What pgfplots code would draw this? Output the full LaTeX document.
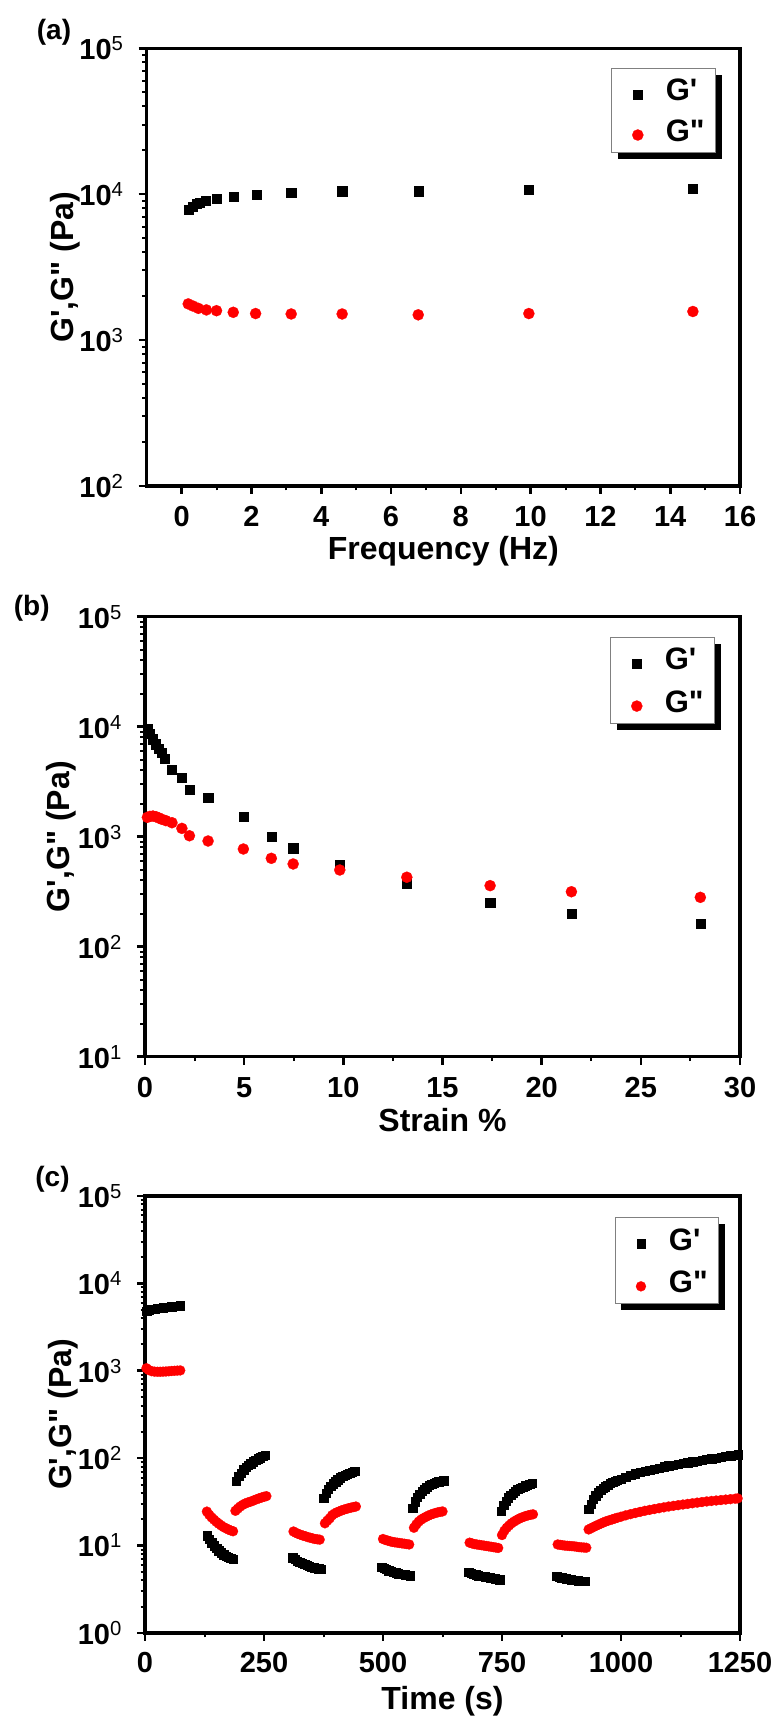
\documentclass[border=0pt]{standalone}
\usepackage{fontspec}
\setmainfont{Liberation Sans}
\usepackage{pgfplots}
\pgfplotsset{compat=1.18}
\usetikzlibrary{shadows}
\newcommand{\Gp}{G\textquotesingle}
\newcommand{\Gpp}{G\textquotedbl}
\pgfplotsset{
  gp/.style={only marks, mark=square*, mark size=4.6bp, mark options={fill=black, draw=black, line width=0.2bp}},
  gpp/.style={only marks, mark=*, mark size=5.6bp, mark options={fill=red, draw=red, line width=0.2bp}},
  panel/.style={
    scale only axis,
    axis line style={line width=3.5bp},
    tick align=outside,
    tick pos=left,
    major tick length=8bp, minor tick length=4.5bp,
    tick style={black, line width=2.6bp},
    minor tick style={line width=2bp},
    minor x tick num=1,
    tick label style={font=\fontsize{29bp}{34bp}\selectfont\bfseries},
    /pgf/number format/assume math mode=true,
    /pgf/number format/1000 sep={},
    xticklabel style={anchor=base, yshift=-33bp},
    yticklabel style={anchor=east, inner xsep=0pt, xshift=-15bp},
    label style={font=\fontsize{32bp}{38bp}\selectfont\bfseries},
    legend cell align=left,
    legend image code/.code={\pgfpathrectangle{\pgfpoint{0bp}{-5bp}}{\pgfpoint{28bp}{10bp}}\pgfusepath{discard}\draw[##1] plot coordinates {(15bp,-4.5bp)};},
    legend style={draw=gray, line width=0.8bp, fill=white, text=black,
      font=\fontsize{31bp}{34bp}\selectfont\bfseries,
      nodes={inner sep=0pt, text depth=0pt, text=black},
      inner xsep=11bp, inner ysep=11bp, row sep=19bp,
      /tikz/every odd column/.append style={column sep=15bp},
      anchor=north east,
      drop shadow={shadow xshift=6.5bp, shadow yshift=-6.5bp, fill=black, opacity=1}},
  }
}
\begin{document}
\begin{tikzpicture}
\path[use as bounding box] (0,0) rectangle (781bp,1718bp);
\node[font=\fontsize{28bp}{32bp}\selectfont\bfseries] at (54bp,1685.5bp) {(a)};
\node[font=\fontsize{28bp}{32bp}\selectfont\bfseries] at (31.7bp,1109.7bp) {(b)};
\node[font=\fontsize{28bp}{32bp}\selectfont\bfseries] at (52.5bp,539bp) {(c)};

% (a)
\begin{axis}[ymode=log, panel, at={(146.7bp,1232bp)}, anchor=south west,
  width=593.3bp, height=437.7bp,
  xmin=-1, xmax=16, ymin=1e2, ymax=1e5,
  xtick={0,2,...,16},
  ytick={1e2,1e3,1e4,1e5},
  yticklabels={10\textsuperscript{\mdseries 2},10\textsuperscript{\mdseries 3},10\textsuperscript{\mdseries 4},10\textsuperscript{\mdseries 5}},
  minor ytick={200,300,400,500,600,700,800,900,2000,3000,4000,5000,6000,7000,8000,9000,20000,30000,40000,50000,60000,70000,80000,90000},
  xlabel={Frequency (Hz)}, ylabel={\Gp,\Gpp{} (Pa)},
  xlabel style={at={(axis description cs:0.5,-0.169)}, anchor=base},
  ylabel style={at={(axis description cs:-0.137,0.5)}, anchor=center},
  legend style={at={(axis description cs:0.9596,0.9557)}},
]
\addplot[gp] coordinates {(0.19,7800) (0.31,8200) (0.43,8570) (0.52,8800) (0.69,9000) (1.0,9300) (1.48,9600) (2.14,9980) (3.14,10200) (4.6,10500) (6.78,10500) (9.95,10700) (14.65,10900)};
\addlegendentry{\Gp}
\addplot[gpp] coordinates {(0.19,1770) (0.33,1710) (0.48,1650) (0.71,1610) (1.0,1590) (1.48,1550) (2.12,1520) (3.14,1510) (4.6,1510) (6.78,1490) (9.95,1520) (14.65,1570)};
\addlegendentry{\Gpp}
\end{axis}

% (b)
\begin{axis}[ymode=log, panel, at={(145bp,661.3bp)}, anchor=south west,
  width=595bp, height=440bp,
  xmin=0, xmax=30, ymin=1e1, ymax=1e5,
  xtick={0,5,...,30},
  ytick={1e1,1e2,1e3,1e4,1e5},
  yticklabels={10\textsuperscript{\mdseries 1},10\textsuperscript{\mdseries 2},10\textsuperscript{\mdseries 3},10\textsuperscript{\mdseries 4},10\textsuperscript{\mdseries 5}},
  minor ytick={20,30,40,50,60,70,80,90,200,300,400,500,600,700,800,900,2000,3000,4000,5000,6000,7000,8000,9000,20000,30000,40000,50000,60000,70000,80000,90000},
  xlabel={Strain \%}, ylabel={\Gp,\Gpp{} (Pa)},
  xlabel style={at={(axis description cs:0.5,-0.1705)}, anchor=base},
  ylabel style={at={(axis description cs:-0.140,0.5)}, anchor=center},
  legend style={at={(axis description cs:0.958,0.9545)}, row sep=21bp},
]
\addplot[gp] coordinates {(0.12,9660) (0.25,8700) (0.4,7730) (0.55,6960) (0.7,6360) (0.85,5810) (1.0,5160) (1.36,4040) (1.86,3440) (2.24,2700) (3.18,2260) (4.96,1520) (6.37,1010) (7.47,789) (9.82,553) (13.2,377) (17.4,251) (21.5,200) (28.0,161)};
\addlegendentry{\Gp}
\addplot[gpp] coordinates {(0.12,1500) (0.25,1530) (0.4,1540) (0.55,1520) (0.7,1480) (0.85,1440) (1.05,1400) (1.36,1340) (1.86,1190) (2.24,1020) (3.18,914) (4.96,773) (6.37,636) (7.47,565) (9.82,498) (13.2,428) (17.4,359) (21.5,316) (28.0,281)};
\addlegendentry{\Gpp}
\end{axis}

% (c)
\begin{axis}[ymode=log, panel, at={(145bp,85bp)}, anchor=south west,
  width=595bp, height=437bp,
  xmin=0, xmax=1250, ymin=1, ymax=1e5,
  xtick={0,250,...,1250},
  ytick={1,1e1,1e2,1e3,1e4,1e5},
  yticklabels={10\textsuperscript{\mdseries 0},10\textsuperscript{\mdseries 1},10\textsuperscript{\mdseries 2},10\textsuperscript{\mdseries 3},10\textsuperscript{\mdseries 4},10\textsuperscript{\mdseries 5}},
  minor ytick={2,3,4,5,6,7,8,9,20,30,40,50,60,70,80,90,200,300,400,500,600,700,800,900,2000,3000,4000,5000,6000,7000,8000,9000,20000,30000,40000,50000,60000,70000,80000,90000},
  xlabel={Time (s)}, ylabel={\Gp,\Gpp{} (Pa)},
  xticklabel style={yshift=1bp},
  xlabel style={at={(axis description cs:0.5,-0.1762)}, anchor=base},
  ylabel style={at={(axis description cs:-0.137,0.5)}, anchor=center},
  legend style={at={(axis description cs:0.965,0.952)}, row sep=21bp},
]
\addplot[gp, mark size=4.2bp] table {
t v
3 4800
8 4950
14 5050
20 5120
26 5180
32 5230
38 5280
44 5330
50 5380
56 5420
62 5470
68 5520
74 5580
130 13.0
135 11.8
140 10.8
145 10.0
150 9.3
155 8.8
160 8.3
165 7.9
170 7.6
175 7.4
180 7.2
185 7.0
192 55
197 62
202 68
207 74
212 79
217 83
222 87
227 91
232 95
237 99
242 102
247 105
252 108
310 7.3
315 7.0
320 6.7
325 6.5
330 6.3
335 6.1
340 6.0
345 5.85
350 5.7
355 5.6
360 5.5
365 5.45
370 5.4
375 35
380 40
385 44
390 48
395 51
400 54
405 57
410 60
415 62
420 64
425 66
430 68
435 69.5
440 71
497 5.7
502 5.5
507 5.35
512 5.2
517 5.1
522 5.0
527 4.9
532 4.8
537 4.75
542 4.7
547 4.65
552 4.6
557 4.55
562 27
567 32
572 36
577 39
582 42
587 44.5
592 47
597 49
602 50.5
607 52
612 53
617 53.8
622 54.5
627 55.5
680 5.0
685 4.85
690 4.75
695 4.65
700 4.55
705 4.5
710 4.45
715 4.4
720 4.35
725 4.3
730 4.25
735 4.2
740 4.15
745 4.1
748 25
753 29
758 32.5
763 35.5
768 38
773 40
778 42
783 44
788 45.5
793 47
798 48.5
803 49.5
808 50.5
813 51.5
865 4.45
870 4.35
875 4.3
880 4.25
885 4.2
890 4.15
895 4.1
900 4.05
905 4.0
910 3.98
915 3.95
920 3.92
925 3.9
932 26
937 30
942 34
947 37.5
952 40.5
957 43
962 45.5
967 47.5
972 49.5
977 51.5
982 53
987 55
992 56.5
1000 58
1010 61
1020 64
1030 67
1040 69
1050 71
1060 73
1070 75
1080 77.5
1090 80
1100 82
1110 84
1120 86
1130 87.5
1140 89
1150 91
1160 93
1170 95
1180 97
1190 99
1200 101
1210 103
1220 105
1230 107
1240 109
1246 110
};
\addlegendentry{\Gp}
\addplot[gpp, mark size=5bp] table {
t v
3 1070
8 1020
14 990
20 978
26 975
32 975
38 978
44 982
50 988
56 995
62 1000
68 1005
74 1010
130 24.5
135 22.5
140 21.0
145 19.8
150 18.7
155 17.8
160 17.0
165 16.3
170 15.8
175 15.3
180 14.9
185 14.6
190 25
195 26.5
200 28
205 29.2
210 30.2
215 31
220 31.6
225 32.3
230 33.2
235 34
240 34.8
245 35.5
250 36.2
255 36.8
312 14.5
317 14.0
322 13.6
327 13.3
332 13.0
337 12.8
342 12.5
347 12.3
352 12.1
357 11.9
362 11.8
367 11.7
378 18
383 19.3
388 20.5
393 22.2
398 23.2
403 24
408 24.6
413 25.3
418 25.8
423 26.3
428 26.8
433 27.2
438 27.6
443 28
500 11.9
505 11.6
510 11.4
515 11.2
520 11.0
525 10.9
530 10.8
535 10.7
540 10.6
545 10.5
550 10.4
555 10.3
565 16
570 17.5
575 18.8
580 19.8
585 20.6
590 21.3
595 22
600 22.6
605 23.1
610 23.6
615 24
620 24.3
625 24.6
682 10.8
687 10.6
692 10.4
697 10.3
702 10.2
707 10.1
712 10.0
717 9.9
722 9.8
727 9.7
732 9.6
737 9.5
742 9.4
750 13.2
755 14.8
760 16
765 17
770 18
775 18.8
780 19.5
785 20.2
790 20.8
795 21.3
800 21.8
805 22.2
810 22.5
815 22.8
867 10.3
872 10.2
877 10.1
882 10.0
887 9.95
892 9.9
897 9.85
902 9.8
907 9.7
912 9.6
917 9.55
922 9.5
927 9.45
932 15.3
937 15.8
942 16.3
947 16.8
952 17.3
957 17.8
962 18.3
967 18.8
972 19.2
977 19.6
982 20
987 20.4
992 20.8
1000 21.4
1010 22.2
1020 22.9
1030 23.6
1040 24.3
1050 25
1060 25.6
1070 26.2
1080 26.8
1090 27.4
1100 28
1110 28.5
1120 29
1130 29.5
1140 30
1150 30.5
1160 31
1170 31.5
1180 32
1190 32.4
1200 32.8
1210 33.2
1220 33.6
1230 34
1240 34.4
1245 34.7
};
\addlegendentry{\Gpp}
\end{axis}
\end{tikzpicture}
\end{document}
